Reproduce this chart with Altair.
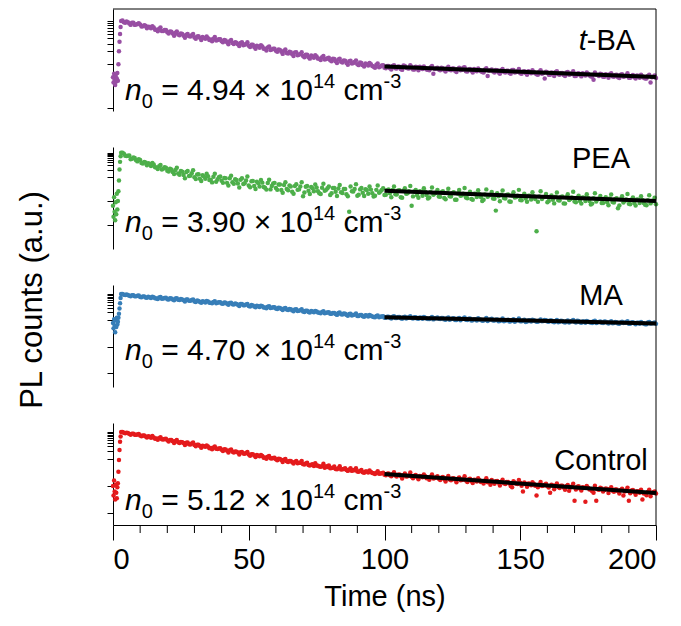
import altair as alt
import pandas as pd

FONT = "Liberation Sans"
BIG = 29          # tick labels, titles, sample names
ANNO = 30         # carrier-density annotation
SMALL = 20        # sub/superscripts
W = 543           # plot width (px)
H = 102           # height of each panel (px)
GAP = 36          # vertical gap between panels (px)

# sampling times in ns: pre-pulse baseline + rising edge, then the decay
time_edge = [0.0, 0.2, 0.4, 0.6, 0.8, 1.0, 1.2, 1.4, 1.6, 1.8, 2.0, 2.2, 2.4, 2.6, 2.8]
time_decay = list(range(3, 201))                  # whole nanoseconds
time_half = [t + 0.5 for t in range(3, 200)]      # half-nanosecond channels

# log10 of normalised PL counts
tba_edge = [-1.30, -1.42, -1.22, -1.36, -1.48, -1.27, -1.40, -1.33, -1.20, -1.38,
            -1.00, -0.70, -0.48, -0.30, -0.14]
tba_decay = [
    0.00, -0.03, -0.01, -0.06, -0.04, -0.09, -0.07, -0.08, -0.12, -0.11,
    -0.13, -0.17, -0.15, -0.20, -0.18, -0.23, -0.21, -0.26, -0.24, -0.29,
    -0.27, -0.31, -0.29, -0.34, -0.32, -0.35, -0.33, -0.38, -0.36, -0.39,
    -0.37, -0.41, -0.40, -0.43, -0.41, -0.45, -0.42, -0.47, -0.44, -0.49,
    -0.47, -0.51, -0.49, -0.54, -0.51, -0.56, -0.53, -0.57, -0.55, -0.60,
    -0.57, -0.62, -0.59, -0.64, -0.61, -0.67, -0.64, -0.69, -0.66, -0.71,
    -0.69, -0.74, -0.71, -0.77, -0.73, -0.79, -0.76, -0.81, -0.78, -0.84,
    -0.80, -0.85, -0.82, -0.87, -0.84, -0.89, -0.86, -0.91, -0.87, -0.93,
    -0.89, -0.94, -0.91, -0.97, -0.93, -0.98, -0.95, -1.00, -0.96, -1.02,
    -0.98, -1.03, -1.00, -1.06, -1.01, -1.07, -1.03, -1.08, -1.04, -1.09,
    -1.04, -1.09, -1.05, -1.11, -1.03, -1.08, -1.10, -1.06, -1.12, -1.07,
    -1.06, -1.11, -1.09, -1.13, -1.07, -1.22, -1.10, -1.12, -1.08, -1.14,
    -1.09, -1.13, -1.10, -1.15, -1.11, -1.14, -1.08, -1.16, -1.12, -1.15,
    -1.11, -1.16, -1.13, -1.18, -1.12, -1.27, -1.14, -1.17, -1.13, -1.19,
    -1.14, -1.18, -1.15, -1.20, -1.13, -1.19, -1.16, -1.21, -1.17, -1.20,
    -1.16, -1.21, -1.18, -1.23, -1.17, -1.22, -1.33, -1.19, -1.24, -1.20,
    -1.18, -1.23, -1.20, -1.25, -1.19, -1.24, -1.21, -1.27, -1.22, -1.25,
    -1.21, -1.26, -1.22, -1.28, -1.36, -1.24, -1.27, -1.23, -1.29, -1.25,
    -1.23, -1.28, -1.25, -1.30, -1.24, -1.29, -1.26, -1.31, -1.27, -1.30,
    -1.26, -1.31, -1.28, -1.33, -1.27, -1.42, -1.29, -1.32]
tba_half = [
    0.01, -0.04, -0.03, -0.09, -0.04, -0.08, -0.05, -0.13, -0.10, -0.17,
    -0.14, -0.12, -0.20, -0.24, -0.15, -0.23, -0.21, -0.29, -0.25, -0.34,
    -0.24, -0.33, -0.30, -0.39, -0.30, -0.36, -0.30, -0.41, -0.35, -0.44,
    -0.39, -0.36, -0.44, -0.47, -0.37, -0.44, -0.42, -0.49, -0.45, -0.54,
    -0.44, -0.53, -0.50, -0.58, -0.49, -0.55, -0.49, -0.60, -0.55, -0.64,
    -0.59, -0.56, -0.64, -0.68, -0.59, -0.66, -0.64, -0.71, -0.67, -0.76,
    -0.66, -0.75, -0.72, -0.81, -0.72, -0.78, -0.72, -0.84, -0.78, -0.87,
    -0.82, -0.79, -0.87, -0.90, -0.81, -0.88, -0.85, -0.93, -0.88, -0.97,
    -0.87, -0.96, -0.92, -1.01, -0.92, -0.97, -0.91, -1.02, -0.97, -1.05,
    -1.00, -0.97, -1.04, -1.08, -0.98, -1.05, -1.02, -1.09, -1.04, -1.12,
    -1.02, -1.10, -1.06, -1.13, -1.04, -1.09, -1.02, -1.12, -1.06, -1.14,
    -1.08, -1.05, -1.12, -1.14, -1.04, -1.11, -1.08, -1.14, -1.09, -1.17,
    -1.06, -1.14, -1.10, -1.18, -1.08, -1.13, -1.07, -1.17, -1.11, -1.19,
    -1.13, -1.10, -1.16, -1.19, -1.09, -1.15, -1.12, -1.19, -1.14, -1.22,
    -1.11, -1.19, -1.15, -1.22, -1.13, -1.18, -1.11, -1.22, -1.16, -1.24,
    -1.18, -1.14, -1.21, -1.24, -1.14, -1.20, -1.17, -1.24, -1.19, -1.27,
    -1.16, -1.24, -1.20, -1.27, -1.18, -1.23, -1.16, -1.27, -1.21, -1.28,
    -1.23, -1.19, -1.26, -1.29, -1.19, -1.25, -1.22, -1.29, -1.23, -1.31,
    -1.21, -1.29, -1.24, -1.32, -1.23, -1.28, -1.21, -1.31, -1.25, -1.33,
    -1.27, -1.24, -1.31, -1.33, -1.24, -1.30, -1.26]

pea_edge = [-2.20, -2.65, -1.85, -2.45, -2.80, -2.05, -2.55, -1.70, -2.35, -2.00,
            -1.60, -1.15, -0.70, -0.38, -0.15]
pea_decay = [
    0.00, -0.04, -0.14, -0.12, -0.25, -0.22, -0.36, -0.30, -0.45, -0.41,
    -0.44, -0.55, -0.49, -0.61, -0.56, -0.70, -0.60, -0.75, -0.66, -0.80,
    -0.72, -0.86, -0.76, -0.92, -0.80, -0.97, -0.85, -1.02, -0.90, -1.08,
    -0.93, -1.08, -0.98, -1.12, -1.00, -1.20, -1.02, -1.16, -1.05, -1.25,
    -1.06, -1.22, -1.10, -1.28, -1.12, -1.30, -1.15, -1.36, -1.18, -1.38,
    -1.20, -1.40, -1.24, -1.45, -1.26, -1.52, -1.28, -1.46, -1.32, -1.55,
    -1.34, -1.50, -1.36, -1.62, -1.38, -1.54, -1.40, -1.80, -1.41, -1.58,
    -1.42, -1.60, -1.44, -1.68, -1.45, -1.58, -1.47, -1.75, -1.46, -1.62,
    -1.48, -1.64, -1.50, -1.72, -2.45, -1.60, -1.50, -1.78, -1.52, -1.66,
    -1.51, -1.70, -1.53, -1.82, -1.54, -1.66, -1.55, -1.75, -1.56, -1.68,
    -1.55, -1.72, -1.57, -1.85, -1.58, -1.70, -1.60, -2.20, -1.61, -1.76,
    -1.60, -1.78, -1.62, -1.90, -1.63, -1.74, -1.65, -1.82, -1.64, -1.88,
    -1.66, -1.80, -1.67, -1.95, -1.69, -1.78, -1.70, -1.86, -1.71, -1.92,
    -1.70, -1.84, -1.72, -2.00, -1.73, -1.83, -1.74, -1.90, -2.40, -1.80,
    -1.74, -1.88, -1.75, -2.02, -1.77, -1.86, -1.78, -1.96, -1.79, -1.90,
    -1.78, -1.94, -1.80, -3.25, -1.81, -1.92, -1.82, -2.05, -1.83, -1.95,
    -1.82, -1.97, -1.84, -2.10, -1.85, -1.96, -1.86, -2.02, -1.87, -2.00,
    -1.86, -2.00, -1.88, -2.15, -1.89, -2.02, -1.90, -2.08, -1.91, -2.05,
    -1.90, -2.04, -1.92, -2.30, -1.93, -2.06, -1.94, -2.12, -1.95, -2.08,
    -1.94, -2.08, -1.96, -2.16, -1.97, -2.10, -1.98, -2.14]
pea_half = [
    0.00, -0.13, -0.13, -0.27, -0.20, -0.31, -0.27, -0.43, -0.39, -0.52,
    -0.47, -0.43, -0.60, -0.68, -0.51, -0.66, -0.62, -0.78, -0.70, -0.88,
    -0.62, -0.91, -0.79, -1.06, -0.76, -0.95, -0.73, -1.09, -0.89, -1.17,
    -0.99, -0.87, -1.13, -1.23, -0.87, -1.11, -0.99, -1.25, -1.06, -1.36,
    -0.95, -1.29, -1.13, -1.44, -1.06, -1.27, -0.99, -1.43, -1.17, -1.50,
    -1.27, -1.13, -1.42, -1.53, -1.12, -1.38, -1.25, -1.54, -1.32, -1.66,
    -1.22, -1.56, -1.40, -1.70, -1.31, -1.52, -1.22, -1.65, -1.38, -1.71,
    -1.47, -1.32, -1.60, -1.71, -1.29, -1.54, -1.40, -1.68, -1.46, -1.79,
    -1.34, -1.67, -1.50, -1.80, -1.40, -1.61, -1.31, -1.74, -1.46, -1.79,
    -1.55, -1.40, -1.68, -1.78, -1.36, -1.61, -1.47, -1.74, -1.52, -1.85,
    -1.40, -1.73, -1.56, -1.87, -1.47, -1.68, -1.38, -1.81, -1.54, -1.87,
    -1.62, -1.47, -1.75, -1.86, -1.44, -1.69, -1.55, -1.83, -1.60, -1.93,
    -1.49, -1.82, -1.64, -1.95, -1.55, -1.76, -1.46, -1.89, -1.62, -1.95,
    -1.70, -1.56, -1.84, -1.95, -1.52, -1.77, -1.63, -1.91, -1.68, -2.01,
    -1.57, -1.90, -1.73, -2.03, -1.64, -1.84, -1.54, -1.97, -1.70, -2.03,
    -1.78, -1.64, -1.92, -2.03, -1.60, -1.85, -1.71, -2.00, -1.77, -2.10,
    -1.65, -1.98, -1.81, -2.11, -1.72, -1.92, -1.62, -2.05, -1.78, -2.11,
    -1.87, -1.72, -2.00, -2.11, -1.68, -1.93, -1.79, -2.08, -1.85, -2.18,
    -1.73, -2.06, -1.89, -2.19, -1.80, -2.00, -1.71, -2.14, -1.86, -2.19,
    -1.95, -1.80, -2.08, -2.18, -1.76, -2.02, -1.87]

ma_edge = [-1.10, -1.30, -0.95, -1.20, -1.45, -1.00, -1.25, -0.90, -1.15, -1.05,
           -0.90, -0.75, -0.55, -0.35, -0.15]
ma_decay = [
    0.00, -0.03, -0.02, -0.07, -0.05, -0.09, -0.07, -0.11, -0.09, -0.13,
    -0.10, -0.15, -0.12, -0.17, -0.13, -0.18, -0.15, -0.20, -0.16, -0.21,
    -0.17, -0.22, -0.19, -0.24, -0.21, -0.26, -0.23, -0.28, -0.25, -0.30,
    -0.27, -0.32, -0.28, -0.33, -0.30, -0.35, -0.31, -0.36, -0.32, -0.37,
    -0.34, -0.39, -0.36, -0.41, -0.38, -0.43, -0.40, -0.45, -0.42, -0.47,
    -0.44, -0.49, -0.46, -0.51, -0.48, -0.53, -0.50, -0.55, -0.52, -0.57,
    -0.55, -0.59, -0.57, -0.62, -0.59, -0.64, -0.61, -0.66, -0.63, -0.68,
    -0.64, -0.69, -0.66, -0.71, -0.68, -0.73, -0.70, -0.75, -0.72, -0.76,
    -0.72, -0.77, -0.74, -0.79, -0.76, -0.81, -0.78, -0.83, -0.79, -0.84,
    -0.80, -0.85, -0.82, -0.87, -0.83, -0.88, -0.85, -0.90, -0.86, -0.90,
    -0.86, -0.91, -0.87, -0.92, -0.88, -0.93, -0.89, -0.91, -0.88, -0.93,
    -0.89, -0.94, -0.90, -0.95, -0.91, -0.96, -0.92, -0.94, -0.91, -0.96,
    -0.92, -0.97, -0.93, -0.98, -0.94, -0.99, -0.93, -0.97, -0.94, -1.00,
    -0.95, -1.00, -0.96, -1.01, -0.97, -1.02, -0.96, -1.00, -0.97, -1.03,
    -0.98, -1.03, -0.99, -1.04, -1.00, -1.05, -0.99, -1.03, -1.00, -1.06,
    -1.00, -1.04, -0.99, -1.05, -1.01, -1.03, -0.98, -1.04, -1.00, -1.05,
    -1.02, -1.07, -1.01, -1.06, -1.03, -1.08, -1.02, -1.05, -1.01, -1.07,
    -1.04, -1.09, -1.05, -1.08, -1.03, -1.10, -1.06, -1.09, -1.04, -1.08,
    -1.07, -1.11, -1.06, -1.12, -1.08, -1.10, -1.07, -1.13, -1.08, -1.11,
    -1.09, -1.13, -1.10, -1.14, -1.08, -1.12, -1.10, -1.13]
ma_half = [
    0.00, -0.04, -0.04, -0.09, -0.05, -0.09, -0.06, -0.12, -0.09, -0.14,
    -0.12, -0.10, -0.16, -0.19, -0.11, -0.17, -0.14, -0.21, -0.17, -0.24,
    -0.16, -0.23, -0.21, -0.28, -0.21, -0.26, -0.21, -0.30, -0.26, -0.33,
    -0.29, -0.26, -0.33, -0.35, -0.27, -0.33, -0.31, -0.37, -0.33, -0.41,
    -0.33, -0.40, -0.38, -0.45, -0.38, -0.43, -0.38, -0.47, -0.43, -0.50,
    -0.46, -0.44, -0.51, -0.54, -0.46, -0.52, -0.50, -0.57, -0.53, -0.61,
    -0.53, -0.61, -0.58, -0.65, -0.58, -0.63, -0.58, -0.68, -0.63, -0.70,
    -0.66, -0.64, -0.70, -0.73, -0.65, -0.71, -0.69, -0.75, -0.72, -0.79,
    -0.70, -0.78, -0.75, -0.82, -0.75, -0.79, -0.74, -0.83, -0.79, -0.86,
    -0.81, -0.79, -0.85, -0.88, -0.81, -0.86, -0.84, -0.90, -0.86, -0.93,
    -0.84, -0.91, -0.87, -0.94, -0.86, -0.90, -0.84, -0.93, -0.88, -0.94,
    -0.90, -0.87, -0.93, -0.95, -0.87, -0.92, -0.89, -0.95, -0.91, -0.97,
    -0.89, -0.95, -0.92, -0.98, -0.91, -0.95, -0.89, -0.98, -0.93, -0.99,
    -0.95, -0.92, -0.97, -1.00, -0.91, -0.97, -0.94, -1.00, -0.96, -1.02,
    -0.93, -1.00, -0.97, -1.03, -0.95, -0.99, -0.93, -1.03, -0.97, -1.04,
    -0.99, -0.97, -1.02, -1.05, -0.96, -1.02, -0.99, -1.05, -1.00, -1.07,
    -0.98, -1.05, -1.02, -1.08, -1.00, -1.04, -0.98, -1.08, -1.02, -1.09,
    -1.04, -1.02, -1.07, -1.10, -1.01, -1.07, -1.04, -1.10, -1.05, -1.12,
    -1.03, -1.10, -1.07, -1.13, -1.05, -1.09, -1.03, -1.13, -1.07, -1.14,
    -1.09, -1.06, -1.12, -1.14, -1.06, -1.11, -1.08]

control_edge = [-2.00, -2.35, -1.80, -2.20, -2.50, -1.95, -2.25, -2.45, -2.05, -1.90,
                -1.47, -1.04, -0.67, -0.36, -0.17]
control_decay = [
    0.00, -0.03, -0.03, -0.07, -0.06, -0.10, -0.09, -0.13, -0.13, -0.17,
    -0.16, -0.21, -0.20, -0.24, -0.23, -0.27, -0.26, -0.31, -0.30, -0.34,
    -0.33, -0.38, -0.37, -0.41, -0.40, -0.45, -0.43, -0.48, -0.47, -0.52,
    -0.51, -0.55, -0.54, -0.59, -0.57, -0.62, -0.61, -0.66, -0.64, -0.69,
    -0.68, -0.73, -0.72, -0.76, -0.75, -0.80, -0.78, -0.83, -0.82, -0.87,
    -0.85, -0.90, -0.89, -0.94, -0.92, -0.97, -0.96, -1.01, -0.99, -1.04,
    -1.03, -1.08, -1.07, -1.12, -1.11, -1.16, -1.14, -1.19, -1.17, -1.22,
    -1.21, -1.26, -1.24, -1.28, -1.27, -1.32, -1.30, -1.34, -1.32, -1.37,
    -1.34, -1.39, -1.37, -1.41, -1.39, -1.44, -1.42, -1.46, -1.44, -1.49,
    -1.46, -1.50, -1.48, -1.53, -1.51, -1.55, -1.53, -1.58, -1.55, -1.60,
    -1.56, -1.61, -1.58, -1.63, -1.60, -1.65, -1.61, -1.66, -1.62, -1.67,
    -1.63, -1.68, -1.64, -1.70, -1.66, -1.72, -1.68, -1.73, -1.69, -1.75,
    -1.70, -1.76, -1.72, -1.77, -1.73, -1.79, -1.75, -1.80, -1.76, -1.82,
    -1.77, -1.83, -1.79, -1.84, -1.80, -1.86, -1.95, -1.87, -1.82, -1.88,
    -1.84, -1.90, -1.85, -1.91, -2.05, -1.87, -1.93, -1.88, -2.20, -1.92,
    -1.91, -1.97, -1.92, -2.35, -1.94, -2.00, -1.95, -2.01, -2.25, -1.98,
    -1.98, -2.04, -1.99, -2.06, -2.01, -2.18, -2.02, -2.55, -2.03, -2.09,
    -2.05, -2.58, -2.06, -2.12, -2.25, -2.55, -2.14, -2.09, -2.15, -2.11,
    -2.12, -2.18, -2.13, -2.19, -2.15, -2.35, -2.16, -2.55, -2.17, -2.23,
    -2.19, -2.25, -2.50, -2.27, -2.22, -2.38, -2.23, -2.28]
control_half = [
    0.00, -0.05, -0.04, -0.10, -0.06, -0.10, -0.07, -0.16, -0.13, -0.20,
    -0.18, -0.15, -0.25, -0.29, -0.19, -0.28, -0.25, -0.35, -0.30, -0.41,
    -0.30, -0.41, -0.38, -0.48, -0.39, -0.46, -0.39, -0.53, -0.47, -0.58,
    -0.53, -0.50, -0.60, -0.64, -0.54, -0.63, -0.60, -0.70, -0.65, -0.76,
    -0.65, -0.76, -0.73, -0.83, -0.74, -0.81, -0.74, -0.88, -0.82, -0.93,
    -0.88, -0.85, -0.95, -0.99, -0.89, -0.98, -0.95, -1.05, -1.00, -1.11,
    -1.00, -1.11, -1.07, -1.17, -1.07, -1.14, -1.07, -1.20, -1.14, -1.24,
    -1.19, -1.16, -1.25, -1.29, -1.18, -1.27, -1.24, -1.33, -1.28, -1.38,
    -1.27, -1.38, -1.34, -1.44, -1.34, -1.41, -1.34, -1.47, -1.41, -1.51,
    -1.46, -1.43, -1.52, -1.56, -1.45, -1.54, -1.51, -1.60, -1.54, -1.64,
    -1.49, -1.65, -1.57, -1.72, -1.54, -1.64, -1.50, -1.71, -1.59, -1.75,
    -1.64, -1.57, -1.71, -1.77, -1.57, -1.70, -1.64, -1.78, -1.67, -1.83,
    -1.63, -1.79, -1.71, -1.86, -1.68, -1.78, -1.64, -1.85, -1.73, -1.89,
    -1.78, -1.71, -1.85, -1.91, -1.71, -1.84, -1.78, -1.92, -1.81, -1.98,
    -1.77, -1.93, -1.85, -2.00, -1.82, -1.92, -1.78, -1.99, -1.87, -2.03,
    -1.92, -1.86, -1.99, -2.05, -1.85, -1.98, -1.92, -2.06, -1.95, -2.12,
    -1.91, -2.07, -1.99, -2.14, -1.96, -2.06, -1.92, -2.13, -2.01, -2.17,
    -2.06, -2.00, -2.13, -2.19, -1.99, -2.12, -2.06, -2.20, -2.09, -2.26,
    -2.05, -2.21, -2.13, -2.28, -2.10, -2.20, -2.06, -2.27, -2.15, -2.32,
    -2.20, -2.14, -2.28, -2.34, -2.14, -2.26, -2.20]

# single-exponential fits over 100-200 ns (log10 of normalised counts)
fit_time = [100, 200]
tba_fit = [-1.05, -1.293]
pea_fit = [-1.58, -2.00]
ma_fit = [-0.875, -1.115]
control_fit = [-1.556, -2.26]

names = ["t-BA", "PEA", "MA", "Control"]
colors = ["#984ea3", "#4daf4a", "#377eb8", "#e41a1c"]
n0_values = ["4.94", "3.90", "4.70", "5.12"]
edges = [tba_edge, pea_edge, ma_edge, control_edge]
decays = [tba_decay, pea_decay, ma_decay, control_decay]
halves = [tba_half, pea_half, ma_half, control_half]
fits = [tba_fit, pea_fit, ma_fit, control_fit]

# log10 limits of each panel's y axis
y_limits = [(-2.08, 0.277), (-3.99, 0.236), (-3.517, 0.34), (-3.444, 0.333)]
# tick marks: decades plus 0.1-1 subdivisions
top_decade = [0.1, 0.2, 0.3, 0.4, 0.5, 0.6, 0.7, 0.8, 0.9, 1.0]
y_ticks = [[0.01] + top_decade,
           [0.001, 0.01] + top_decade,
           [0.001, 0.01] + top_decade,
           [0.001, 0.01] + top_decade]

x_major = [0, 50, 100, 150, 200]
x_minor = [10, 20, 30, 40, 60, 70, 80, 90, 110, 120, 130, 140, 160, 170, 180, 190]

# text placement inside each panel (px)
n0_baseline = [91, 85, 75, 87]
name_baseline = [41, 21, 20, 47]
name_center = 488

# Arial / Liberation Sans advance widths (1/1000 em)
ADV = {" ": 278, "=": 584, ".": 278, "\u00d7": 584, "c": 500, "m": 833, "n": 556,
       "-": 333, "t": 278, "B": 667, "A": 667}


def run_width(s, size):
    return sum(ADV.get(ch, 556) for ch in s) * size / 1000.0


ONE = pd.DataFrame({"k": [0]})


def rich_text(pieces, x0, y0):
    """Lay out text runs (text, size, style, dy, leading gap) left to right."""
    out = []
    x = x0
    for text, size, style, dy, gap in pieces:
        x += gap
        out.append(
            alt.Chart(ONE).mark_text(
                text=text, font=FONT, fontSize=size, fontStyle=style,
                align="left", baseline="alphabetic", color="black"
            ).encode(x=alt.value(x), y=alt.value(y0 + dy))
        )
        x += run_width(text, size)
    return out


def panel(i):
    last = i == 3
    times = time_edge + time_decay + time_half
    logs = edges[i] + decays[i] + halves[i]
    df = pd.DataFrame({"time": times, "counts": [10 ** v for v in logs]})
    fit_df = pd.DataFrame({"time": fit_time,
                           "counts": [10 ** v for v in fits[i]]})
    lo, hi = y_limits[i]
    yscale = alt.Scale(type="log", domain=[10 ** lo, 10 ** hi], nice=False)
    xscale = alt.Scale(domain=[0, 200], nice=False)

    if last:
        xaxis = alt.Axis(values=x_major, tickSize=15, labelFontSize=BIG,
                         labelPadding=5, title="Time (ns)", titleFontSize=BIG,
                         titleFontWeight="normal", titlePadding=8)
    else:
        xaxis = None

    yaxis = alt.Axis(values=y_ticks[i], labels=False, tickSize=6, title=None)

    pts = alt.Chart(df).mark_circle(size=20, opacity=1, color=colors[i]).encode(
        x=alt.X("time:Q", scale=xscale, axis=xaxis),
        y=alt.Y("counts:Q", scale=yscale, axis=yaxis),
    )
    fit = alt.Chart(fit_df).mark_line(color="black", strokeWidth=4).encode(
        x=alt.X("time:Q", scale=xscale),
        y=alt.Y("counts:Q", scale=yscale),
    )
    layers = [pts, fit]

    # right-hand frame line, bridging the gaps between panels
    top = 0 if i == 0 else -GAP / 2
    bottom = H if last else H + GAP / 2
    layers.append(alt.Chart(ONE).mark_rule(color="black", strokeWidth=1).encode(
        x=alt.value(W), y=alt.value(top), y2=alt.value(bottom)))
    if i == 0:
        layers.append(alt.Chart(ONE).mark_rule(color="black", strokeWidth=1).encode(
            x=alt.value(0), x2=alt.value(W), y=alt.value(0)))
    if last:
        minor_df = pd.DataFrame({"time": x_minor})
        layers.append(alt.Chart(minor_df).mark_rule(color="black", strokeWidth=1).encode(
            x=alt.X("time:Q", scale=xscale), y=alt.value(H), y2=alt.value(H + 8)))
    if i == 2:
        layers.append(alt.Chart(ONE).mark_text(
            text="PL counts (a.u.)", font=FONT, fontSize=31, angle=270,
            align="center", baseline="middle", color="black"
        ).encode(x=alt.value(-80), y=alt.value(15)))

    # carrier density annotation
    sp_big = run_width(" ", ANNO)
    layers += rich_text([
        ("n", ANNO, "italic", 0, 0),
        ("0", SMALL, "normal", 8, 0),
        ("= " + n0_values[i] + " \u00d7 10", ANNO, "normal", 0, sp_big),
        ("14", SMALL, "normal", -12, 0),
        ("cm", ANNO, "normal", 0, sp_big),
        ("-3", SMALL, "normal", -12, 0),
    ], 12, n0_baseline[i])

    # sample name
    if names[i] == "t-BA":
        total = run_width("t-BA", BIG)
        layers += rich_text([("t", BIG, "italic", 0, 0), ("-BA", BIG, "normal", 0, 0)],
                            494 - total / 2, name_baseline[i])
    else:
        layers.append(alt.Chart(ONE).mark_text(
            text=names[i], font=FONT, fontSize=BIG, align="center",
            baseline="alphabetic", color="black"
        ).encode(x=alt.value(name_center), y=alt.value(name_baseline[i])))

    return alt.layer(*layers).properties(width=W, height=H)


chart = alt.vconcat(*[panel(i) for i in range(4)], spacing=GAP, bounds="flush").properties(
    padding={"left": 16, "top": 8, "right": 4, "bottom": 4}
).configure_view(stroke=None).configure_axis(
    grid=False, domainColor="black", tickColor="black", labelColor="black",
    titleColor="black", labelFont=FONT, titleFont=FONT, domainWidth=1, tickWidth=1
)

chart.save("out.html", embed_options={"renderer": "svg", "actions": False})
